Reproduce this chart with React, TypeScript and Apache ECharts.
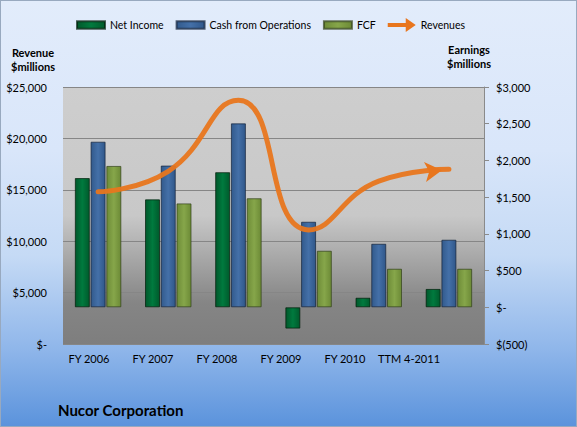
import React, { useEffect, useRef } from 'react';
import * as echarts from 'echarts';

const categories = ['FY 2006', 'FY 2007', 'FY 2008', 'FY 2009', 'FY 2010', 'TTM 4-2011'];
const netIncome = [1760, 1470, 1840, -290, 130, 250];
const cashFromOps = [2255, 1930, 2505, 1165, 865, 920];
const fcf = [1925, 1415, 1485, 770, 525, 525];
const revenues = [14800, 16800, 23700, 11100, 15850, 17000];

const FONT = 'Lato, "Liberation Sans", sans-serif';

function money(v: number): string {
  if (v === 0) return '$-';
  const s = Math.abs(v).toLocaleString('en-US');
  return v < 0 ? '$(' + s + ')' : '$' + s;
}

function barGrad(c1: string, c2: string, c3: string) {
  return new echarts.graphic.LinearGradient(0, 0, 1, 0, [
    { offset: 0, color: c1 },
    { offset: 0.5, color: c2 },
    { offset: 1, color: c3 },
  ]);
}

export default function App() {
  const ref = useRef<HTMLDivElement>(null);
  useEffect(() => {
    document.body.style.margin = '0';
    const chart = echarts.init(ref.current!, undefined, { renderer: 'svg' });
    const rectIcon = 'path://M0,0H27V7H0Z';
    const arrowIcon = 'path://M0,5H18V0L28,7L18,14V9H0Z';
    chart.setOption({
      animation: false,
      backgroundColor: 'transparent',
      textStyle: { fontFamily: FONT },
      title: {
        text: 'Nucor Corporation',
        left: 52,
        top: 396,
        textStyle: { fontFamily: FONT, fontSize: 15, fontWeight: 'bold', color: '#000' },
      },
      legend: {
        left: 70,
        top: 12,
        itemWidth: 28,
        itemHeight: 14,
        itemGap: 12,
        textStyle: { fontFamily: FONT, fontSize: 10.5, color: '#000' },
        data: [
          { name: 'Net Income', icon: rectIcon },
          { name: 'Cash from Operations', icon: rectIcon },
          { name: 'FCF', icon: rectIcon },
          { name: 'Revenues', icon: arrowIcon },
        ],
      },
      graphic: [
        {
          type: 'text',
          x: 32,
          y: 44,
          style: {
            text: 'Revenue\n$millions',
            align: 'center',
            font: 'bold 11px ' + FONT,
            lineHeight: 14,
            fill: '#000',
          },
        },
        {
          type: 'text',
          x: 468,
          y: 41,
          style: {
            text: 'Earnings\n$millions',
            align: 'center',
            font: 'bold 11px ' + FONT,
            lineHeight: 14,
            fill: '#000',
          },
        },
      ],
      grid: [
        {
          left: 62,
          right: 92,
          top: 86,
          bottom: 82,
          show: true,
          borderWidth: 0,
          backgroundColor: new echarts.graphic.LinearGradient(0, 0, 0, 1, [
            { offset: 0, color: '#CECECE' },
            { offset: 0.5, color: '#C8C8C8' },
            { offset: 0.84, color: '#858585' },
            { offset: 1, color: '#7E7E7E' },
          ]),
        },
        { left: 56, width: 384, top: 86, bottom: 82 },
      ],
      xAxis: [
        {
          type: 'category',
          gridIndex: 0,
          data: categories,
          axisLine: { show: false },
          axisTick: { show: false },
          axisLabel: { show: false },
        },
        {
          type: 'category',
          gridIndex: 1,
          data: categories,
          axisLine: { show: false },
          axisTick: { show: false },
          axisLabel: { show: true, interval: 0, margin: 9, fontFamily: FONT, fontSize: 11, color: '#000' },
        },
      ],
      yAxis: [
        {
          type: 'value',
          gridIndex: 0,
          min: 0,
          max: 25000,
          interval: 5000,
          axisLine: { show: false },
          axisTick: { show: false },
          axisLabel: { margin: 16, fontFamily: FONT, fontSize: 11, color: '#000', formatter: money },
          splitLine: { lineStyle: { color: '#868686', width: 1 } },
        },
        {
          type: 'value',
          gridIndex: 0,
          position: 'right',
          min: -500,
          max: 3000,
          interval: 500,
          axisLine: { show: true, lineStyle: { color: '#8A8A8A', width: 1 } },
          axisTick: { show: true, length: 5, lineStyle: { color: '#8A8A8A' } },
          axisLabel: { margin: 12, fontFamily: FONT, fontSize: 11, color: '#000', formatter: money },
          splitLine: { show: false },
        },
        { type: 'value', gridIndex: 1, show: false, min: 0, max: 1 },
      ],
      series: [
        {
          name: 'Net Income',
          type: 'bar',
          yAxisIndex: 1,
          data: netIncome,
          barWidth: 15,
          barGap: '5%',
          color: '#00703A',
          itemStyle: {
            color: barGrad('#00582B', '#007A3E', '#005A2C'),
            borderColor: 'rgba(0,30,10,0.7)',
            borderWidth: 1,
          },
        },
        {
          name: 'Cash from Operations',
          type: 'bar',
          yAxisIndex: 1,
          data: cashFromOps,
          barWidth: 15,
          barGap: '5%',
          color: '#3D68A0',
          itemStyle: {
            color: barGrad('#325A8C', '#4470A8', '#30578A'),
            borderColor: 'rgba(20,35,60,0.7)',
            borderWidth: 1,
          },
        },
        {
          name: 'FCF',
          type: 'bar',
          yAxisIndex: 1,
          data: fcf,
          barWidth: 15,
          barGap: '5%',
          color: '#7F9F44',
          itemStyle: {
            color: barGrad('#6E8C38', '#86A64A', '#6C8A36'),
            borderColor: 'rgba(50,65,25,0.7)',
            borderWidth: 1,
          },
        },
        {
          name: 'Revenues',
          type: 'line',
          yAxisIndex: 0,
          z: 5,
          smooth: true,
          color: '#E8761E',
          showSymbol: true,
          symbol: 'none',
          lineStyle: { color: '#E8761E', width: 5, cap: 'round', opacity: 0.95 },
          data: revenues.map((v, i) =>
            i === revenues.length - 1
              ? {
                  value: v,
                  symbol: 'arrow',
                  symbolSize: [15, 17],
                  symbolRotate: -84,
                  symbolOffset: [-7, 1],
                  itemStyle: { color: '#E8761E' },
                }
              : v
          ),
        },
      ],
    });
    return () => chart.dispose();
  }, []);
  return (
    <div
      style={{
        width: 577,
        height: 427,
        boxSizing: 'border-box',
        border: '1px solid #98A9BF',
        background: 'linear-gradient(to bottom, #E2ECFB 0%, #D9E6FA 35%, #C5DAF5 60%, #8FB6EA 82%, #5B93DC 100%)',
      }}
    >
      <div ref={ref} style={{ width: 575, height: 425 }} />
    </div>
  );
}
